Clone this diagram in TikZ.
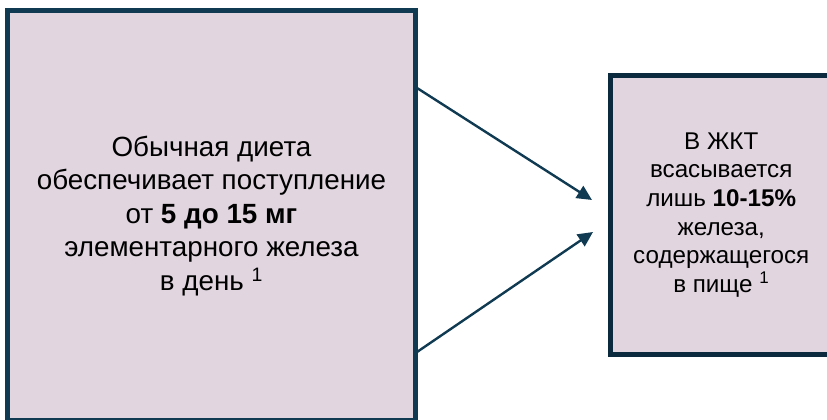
\documentclass[tikz,border=0pt]{standalone}
\usepackage{fontspec}
\setmainfont{Liberation Sans}
\usetikzlibrary{arrows.meta,calc}
\definecolor{boxfill}{HTML}{E1D6E0}
\definecolor{boxedge}{HTML}{0F3A52}
\definecolor{boxedgedark}{HTML}{0B2A3D}
\tikzset{
  infobox/.style={draw=boxedge, fill=boxfill, line width=5pt, align=center,
    text=black, inner sep=0pt},
  flow/.style={boxedge, line width=2.4pt, -{Triangle[length=15pt,width=14pt]}}
}
\begin{document}
\begin{tikzpicture}[x=1pt,y=1pt]
            \useasboundingbox (0,0) rectangle (827,420);
            \node[infobox, minimum width=408pt, minimum height=410.5pt,
              font=\fontsize{27.8}{33.5}\selectfont] (diet) at (211.5,204.25)
              {Обычная диета\\обеспечивает поступление\\от \textbf{5 до 15 мг}\\элементарного железа\\в день \textsuperscript{1}};
            \node[infobox, draw=boxedgedark, minimum width=221.5pt, minimum height=279pt,
              font=\fontsize{24.2}{28.7}\selectfont] (gut) at (721.25,205)
              {В ЖКТ\\всасывается\\лишь \textbf{10-15\%}\\железа,\\содержащегося\\в пище \textsuperscript{1}};
            \coordinate (upper) at ($(gut.west)+(-16,15)$);
            \coordinate (lower) at ($(gut.west)+(-15,-17)$);
            \draw[flow] ($(diet.north east)+(-1,-80)$) -- (upper);
            \draw[flow] ($(diet.north east)+(-1,-344)$) -- (lower);
        \end{tikzpicture}
\end{document}
